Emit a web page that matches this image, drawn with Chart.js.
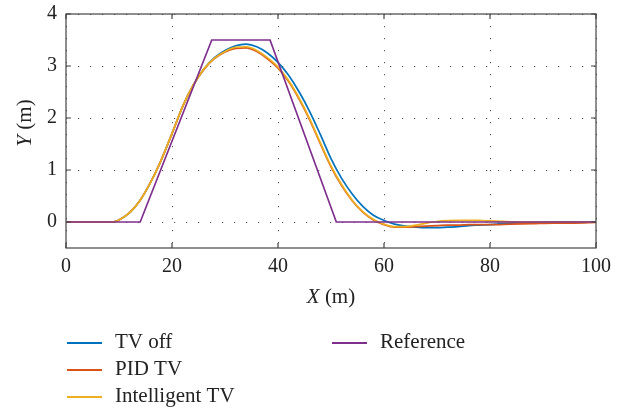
<!DOCTYPE html>
<html>
<head>
<meta charset="utf-8">
<script src="https://cdn.jsdelivr.net/npm/chart.js@4.4.0/dist/chart.umd.min.js"></script>
<style>
  body { margin: 0; background: #fff; }
  canvas { display: block; }
</style>
</head>
<body>
<canvas id="chart" width="622" height="411"></canvas>
<script>
// values
var xPos = [0, 4, 8, 9, 10, 12, 14, 16, 18, 20, 22, 24, 26, 28, 30, 32, 34, 36, 38, 40, 42, 44, 46, 48, 50, 52, 54, 56, 58, 60, 62, 64, 66, 68, 70, 72, 74, 76, 78, 80, 84, 88, 92, 96, 100];
var tvOff = [0, 0, 0, 0.005, 0.04, 0.18, 0.42, 0.77, 1.2, 1.7, 2.22, 2.63, 2.94, 3.16, 3.3, 3.39, 3.42, 3.37, 3.25, 3.07, 2.82, 2.5, 2.12, 1.68, 1.22, 0.84, 0.54, 0.3, 0.13, 0.03, -0.04, -0.08, -0.1, -0.11, -0.11, -0.1, -0.09, -0.07, -0.06, -0.05, -0.02, -0.01, 0, 0, 0];
var pidTv = [0, 0, 0, 0.005, 0.04, 0.18, 0.42, 0.77, 1.2, 1.7, 2.22, 2.63, 2.93, 3.14, 3.27, 3.34, 3.35, 3.28, 3.14, 2.96, 2.7, 2.36, 1.96, 1.5, 1.06, 0.7, 0.41, 0.19, 0.04, -0.05, -0.1, -0.1, -0.09, -0.08, -0.07, -0.06, -0.06, -0.05, -0.05, -0.05, -0.04, -0.03, -0.02, -0.02, -0.01];
var intelligentTv = [0, 0, 0, 0.005, 0.04, 0.18, 0.42, 0.77, 1.2, 1.7, 2.22, 2.63, 2.94, 3.15, 3.28, 3.36, 3.37, 3.3, 3.16, 2.98, 2.72, 2.38, 1.98, 1.52, 1.08, 0.72, 0.42, 0.2, 0.05, -0.04, -0.09, -0.09, -0.06, -0.02, 0.01, 0.025, 0.03, 0.03, 0.03, 0.02, 0.005, 0, 0, 0, 0];
var refX = [0, 14, 27.5, 38.5, 51, 100];
var refY = [0, 0, 3.5, 3.5, 0, 0];
var xTicks = [0, 20, 40, 60, 80, 100];
var yTicks = [0, 1, 2, 3, 4];
var seriesNames = ["TV off", "PID TV", "Intelligent TV", "Reference"];
var seriesColors = ["#0072BD", "#D95319", "#EDB120", "#7E2F8E"];

function toPoints(xs, ys) {
  return xs.map(function (x, i) { return { x: x, y: ys[i] }; });
}

var serif = "'Liberation Serif', 'Times New Roman', serif";

// draws "<italic letter> (m)" centred on 0,0 of the current transform
function axisTitle(ctx, letter) {
  ctx.font = "italic 21px " + serif;
  var w1 = ctx.measureText(letter).width;
  ctx.font = "21px " + serif;
  var w2 = ctx.measureText(" (m)").width;
  var start = -(w1 + w2) / 2;
  ctx.font = "italic 21px " + serif;
  ctx.fillText(letter, start, 0);
  ctx.font = "21px " + serif;
  ctx.fillText(" (m)", start + w1, 0);
}

// frame, inward ticks, axis titles and the two-column legend
var decorations = {
  id: "decorations",
  afterDraw: function (chart) {
    var ctx = chart.ctx;
    var a = chart.chartArea;
    var xs = chart.scales.x, ys = chart.scales.y;
    ctx.save();
    ctx.strokeStyle = "#444";
    ctx.lineWidth = 1.2;
    ctx.strokeRect(a.left, a.top, a.right - a.left, a.bottom - a.top);
    ctx.beginPath();
    xTicks.forEach(function (v) {
      var px = xs.getPixelForValue(v);
      ctx.moveTo(px, a.bottom); ctx.lineTo(px, a.bottom - 5);
      ctx.moveTo(px, a.top); ctx.lineTo(px, a.top + 5);
    });
    yTicks.forEach(function (v) {
      var py = ys.getPixelForValue(v);
      ctx.moveTo(a.left, py); ctx.lineTo(a.left + 5, py);
      ctx.moveTo(a.right, py); ctx.lineTo(a.right - 5, py);
    });
    ctx.stroke();

    ctx.fillStyle = "#222";
    ctx.textBaseline = "middle";
    ctx.textAlign = "left";
    ctx.save();
    ctx.translate((a.left + a.right) / 2, 297);
    axisTitle(ctx, "X");
    ctx.restore();
    ctx.save();
    ctx.translate(25, (a.top + a.bottom) / 2 - 8);
    ctx.rotate(-Math.PI / 2);
    axisTitle(ctx, "Y");
    ctx.restore();

    // legend
    var slots = [[67, 343], [67, 370], [67, 397], [332, 343]];
    ctx.font = "21px " + serif;
    chart.data.datasets.forEach(function (ds, i) {
      var s = slots[i];
      ctx.strokeStyle = ds.borderColor;
      ctx.lineWidth = 2;
      ctx.beginPath();
      ctx.moveTo(s[0], s[1]); ctx.lineTo(s[0] + 35, s[1]);
      ctx.stroke();
      ctx.fillStyle = "#222";
      ctx.fillText(ds.label, s[0] + 48, s[1] - 1);
    });
    ctx.restore();
  }
};

function makeSet(i, points, smooth, order) {
  return {
    label: seriesNames[i],
    data: points,
    borderColor: seriesColors[i],
    backgroundColor: seriesColors[i],
    borderWidth: 1.7,
    pointRadius: 0,
    fill: false,
    tension: smooth ? 0.4 : 0,
    cubicInterpolationMode: smooth ? "monotone" : "default",
    order: order
  };
}

var config = {
  type: "line",
  data: {
    datasets: [
      makeSet(0, toPoints(xPos, tvOff), true, 3),
      makeSet(1, toPoints(xPos, pidTv), true, 2),
      makeSet(2, toPoints(xPos, intelligentTv), true, 1),
      makeSet(3, toPoints(refX, refY), false, 0)
    ]
  },
  options: {
    responsive: false,
    animation: false,
    layout: { padding: { left: 0, top: 14, right: 26, bottom: 123 } },
    plugins: { legend: { display: false }, tooltip: { enabled: false } },
    scales: {
      x: {
        type: "linear",
        min: 0,
        max: 100,
        afterFit: function (s) { s.height = 40; s.paddingLeft = 0; s.paddingRight = 0; },
        afterBuildTicks: function (s) { s.ticks = xTicks.map(function (v) { return { value: v }; }); },
        grid: { color: "#555", lineWidth: 1, drawTicks: false },
        border: { display: false, dash: [1.2, 10.8] },
        ticks: { color: "#222", padding: 7, font: { family: serif, size: 20 }, maxRotation: 0 }
      },
      y: {
        type: "linear",
        min: -0.5,
        max: 4,
        afterFit: function (s) { s.width = 66; s.paddingTop = 0; s.paddingBottom = 0; },
        afterBuildTicks: function (s) { s.ticks = yTicks.map(function (v) { return { value: v }; }); },
        grid: { color: "#555", lineWidth: 1, drawTicks: false },
        border: { display: false, dash: [1.2, 10.8] },
        ticks: { color: "#222", padding: 9, font: { family: serif, size: 20 } }
      }
    }
  },
  plugins: [decorations]
};

var canvas = document.getElementById("chart");
var chart = new Chart(canvas.getContext("2d"), config);
</script>
</body>
</html>
